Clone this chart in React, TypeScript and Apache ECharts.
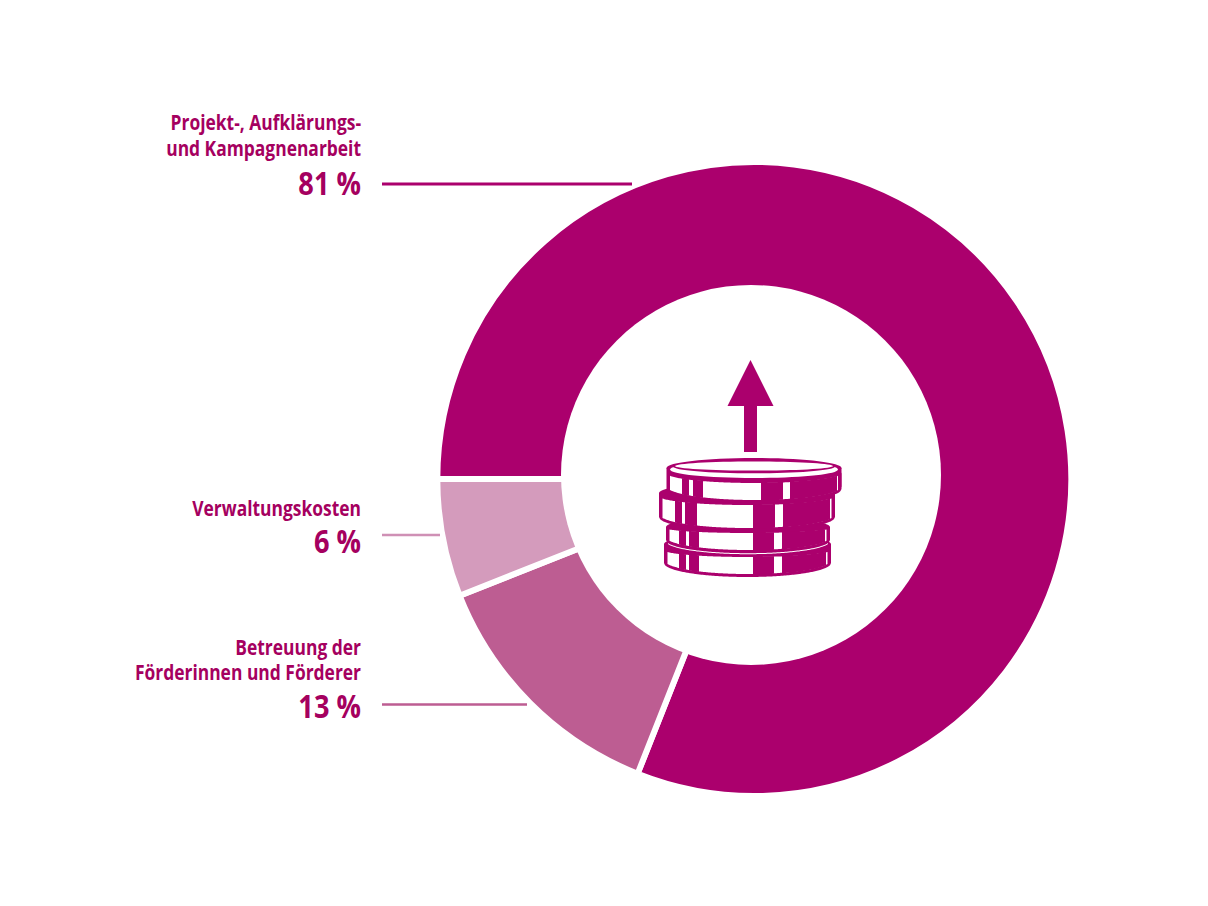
import React, { useEffect, useRef } from "react";
import * as echarts from "echarts";

const categories = ["Projekt-, Aufklärungs- und Kampagnenarbeit", "Betreuung der Förderinnen und Förderer", "Verwaltungskosten"];
const values = [81, 13, 6];
const nameLines = [["Projekt-, Aufklärungs-", "und Kampagnenarbeit"], ["Betreuung der", "Förderinnen und Förderer"], ["Verwaltungskosten"]];
const percentLabels = ["81 %", "13 %", "6 %"];

const DARK = "#ab006d";
const TEXT = "#a5005f";
const colors = [DARK, "#bd5d92", "#d49bbc"];
const lineColors = [DARK, "#bd5d92", "#cf90b5"];

const CX = 754.3, CY = 479, R_OUT = 314, GAP = 6;
const HOLE = { cx: 751, cy: 475, r: 190 };
const FONT = "'Open Sans', sans-serif";
const SQUEEZE = 0.85;
const labelRight = 361;
const layout = [
  { nameY: [122, 148], pctY: 183, lineY: 184, lineEnd: 632 },
  { nameY: [647, 672], pctY: 706, lineY: 704.5, lineEnd: 527 },
  { nameY: [508], pctY: 541, lineY: 535, lineEnd: 440 },
];

function labelGraphics(): any[] {
  const out: any[] = [];
  layout.forEach((l, i) => {
    nameLines[i].forEach((t, j) => {
      out.push({
        type: "text", x: labelRight, y: l.nameY[j], scaleX: SQUEEZE, silent: true, z: 10,
        style: { text: t, fill: TEXT, font: `700 20.5px ${FONT}`, textAlign: "right", textVerticalAlign: "middle" },
      });
    });
    out.push({
      type: "text", x: labelRight, y: l.pctY, scaleX: SQUEEZE, silent: true, z: 10,
      style: { text: percentLabels[i], fill: TEXT, font: `700 32px ${FONT}`, textAlign: "right", textVerticalAlign: "middle" },
    });
    out.push({
      type: "line", silent: true, z: 10,
      shape: { x1: 382, y1: l.lineY, x2: l.lineEnd, y2: l.lineY },
      style: { stroke: lineColors[i], lineWidth: i === 0 ? 3 : 2.5 },
    });
  });
  return out;
}

// ---- coin stack icon (decoration in the ring's hole) ----
type Coin = { cx: number; rx: number; cy: number; ry: number; h: number; wEdge: number; wCenter: number; stripes: number[][] };
const coins: Coin[] = [
  { cx: 747.5, rx: 83.5, cy: 543, ry: 14, h: 20, wEdge: 550, wCenter: 557, stripes: [[679, 686], [689, 699], [753, 774], [782, 826], [829, 832]] },
  { cx: 748, rx: 82, cy: 526, ry: 13, h: 14, wEdge: 528, wCenter: 533, stripes: [[679, 686], [689, 699], [753, 774], [782, 825], [828, 831]] },
  { cx: 747, rx: 88, cy: 492, ry: 14, h: 25, wEdge: 496, wCenter: 505, stripes: [[675, 682], [685, 697], [753, 775], [783, 830], [832, 836]] },
  { cx: 754, rx: 87.5, cy: 467, ry: 14, h: 22, wEdge: 473, wCenter: 483, stripes: [[682, 689], [693, 703], [761, 783], [790, 837], [839, 842]] },
];

function bandPoints(x1: number, x2: number, top: (x: number) => number, bot: (x: number) => number) {
  const pts: number[][] = [];
  for (let x = x1; x <= x2; x += 1) pts.push([x, top(x)]);
  pts.push([x2, top(x2)]);
  pts.push([x2, bot(x2)]);
  for (let x = x2; x >= x1; x -= 1) pts.push([x, bot(x)]);
  pts.push([x1, bot(x1)]);
  return pts;
}

function coinGraphics(): any[] {
  const out: any[] = [];
  const poly = (points: number[][], fill: string) => ({ type: "polygon", silent: true, z: 12, shape: { points }, style: { fill } });
  coins.forEach((c, idx) => {
    const s = (x: number) => Math.sqrt(Math.max(0, 1 - ((x - c.cx) / c.rx) ** 2));
    const sil = (x: number) => c.cy + c.h + c.ry * s(x);
    const wTop = (x: number) => c.wEdge + (c.wCenter - c.wEdge) * s(x);
    const wBot = (x: number) => sil(x) - 3;
    out.push({ type: "ellipse", silent: true, z: 12, shape: { cx: c.cx, cy: c.cy + 1, rx: c.rx, ry: 10 }, style: { fill: DARK } });
    out.push(poly(bandPoints(c.cx - c.rx, c.cx + c.rx, () => c.cy + 1, sil), DARK));
    out.push(poly(bandPoints(c.cx - c.rx + 3.5, c.cx + c.rx - 3.5, wTop, wBot), "#ffffff"));
    c.stripes.forEach(([a, b]) => {
      out.push(poly(bandPoints(a, Math.min(b, c.cx + c.rx), (x) => wTop(x) - 0.5, (x) => wBot(x) + 0.5), DARK));
    });
    if (idx === 1) {
      // thin white seam between the two lowest coins
      out.push(poly(bandPoints(c.cx - c.rx + 2, c.cx + c.rx - 2, (x) => sil(x) + 0.2, (x) => sil(x) + 1.2), "#ffffff"));
    }
  });
  const e = (cy: number, rx: number, ry: number, fill: string) => ({ type: "ellipse", silent: true, z: 12, shape: { cx: 754, cy, rx, ry }, style: { fill } });
  out.push(e(469.5, 84, 8.5, "#ffffff"));
  out.push(e(466.5, 81, 6.8, DARK));
  out.push(e(466, 79, 4.6, "#ffffff"));
  return out;
}

const arrow = {
  type: "polygon", silent: true, z: 12,
  shape: { points: [[750.5, 360], [773.5, 406], [757, 406], [757, 452], [744, 452], [744, 406], [727.5, 406]] },
  style: { fill: DARK },
};

const hole = {
  type: "circle", silent: true, z: 11,
  shape: { cx: HOLE.cx, cy: HOLE.cy, r: HOLE.r },
  style: { fill: "#ffffff" },
};

export default function App() {
  const ref = useRef<HTMLDivElement>(null);
  useEffect(() => {
    const chart = echarts.init(ref.current!, undefined, { renderer: "svg" });
    chart.setOption({
      animation: false,
      backgroundColor: "#ffffff",
      series: [{
        type: "pie",
        center: [CX, CY],
        radius: [150, R_OUT + GAP / 2],
        startAngle: 180,
        clockwise: true,
        silent: true,
        label: { show: false },
        labelLine: { show: false },
        itemStyle: { borderColor: "#ffffff", borderWidth: GAP },
        data: categories.map((name, i) => ({ name, value: values[i], itemStyle: { color: colors[i] } })),
      }],
      graphic: { elements: [...labelGraphics(), hole, arrow, ...coinGraphics()] },
    });
    return () => chart.dispose();
  }, []);
  return <div ref={ref} style={{ position: "absolute", left: 0, top: 0, width: 1208, height: 906 }} />;
}
